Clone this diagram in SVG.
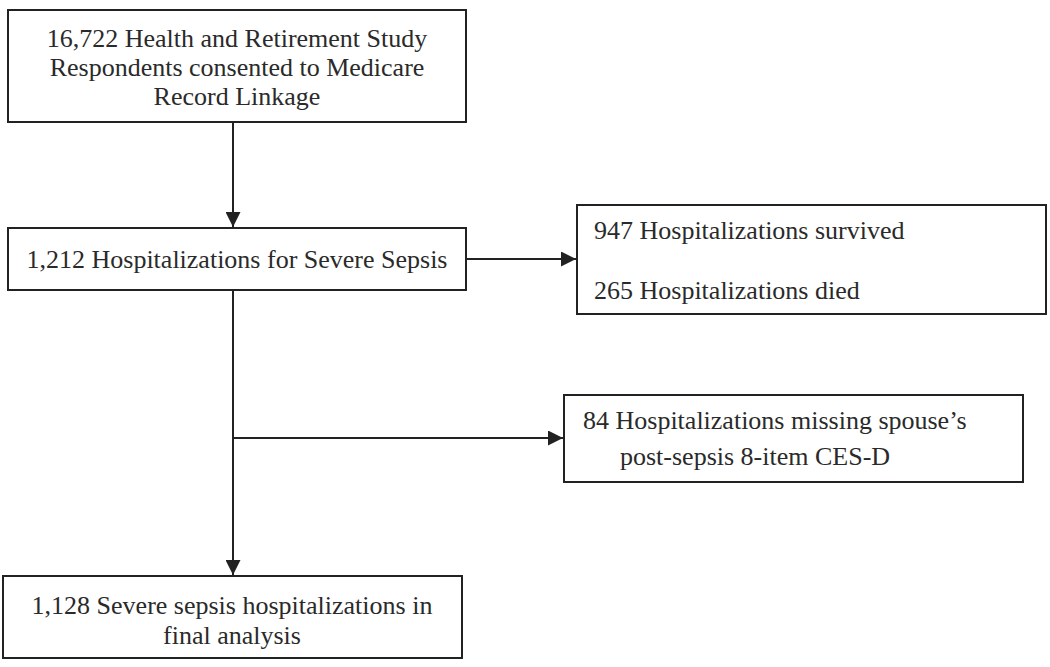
<svg xmlns="http://www.w3.org/2000/svg" width="1050" height="667" viewBox="0 0 1050 667">
<style>
.box{fill:#fff;stroke:#222;stroke-width:2}
.t{font-family:"Liberation Serif","Times New Roman",serif;font-size:26px;fill:#2a2a2a}
.c{text-anchor:middle}
.ln{stroke:#222;stroke-width:2;fill:none}
</style>
<defs>
<marker id="ahb" viewBox="0 0 10 10" refX="10" refY="5" markerWidth="15" markerHeight="15" markerUnits="userSpaceOnUse" orient="auto">
<path d="M0,0 L10,5 L0,10 z" fill="#222"/>
</marker>
</defs>
<rect width="1050" height="667" fill="#fff"/>
<g id="connectors">
<line class="ln" x1="233" y1="122" x2="233" y2="227" marker-end="url(#ahb)"/>
<line class="ln" x1="466" y1="259" x2="576" y2="259" marker-end="url(#ahb)"/>
<line class="ln" x1="233" y1="290" x2="233" y2="575" marker-end="url(#ahb)"/>
<line class="ln" x1="233" y1="438" x2="563" y2="438" marker-end="url(#ahb)"/>
</g>
<g id="n1">
<rect class="box" x="8" y="10" width="458" height="112"/>
<text class="t c" x="237" y="47">16,722 Health and Retirement Study</text>
<text class="t c" x="237" y="76">Respondents consented to Medicare</text>
<text class="t c" x="237" y="105">Record Linkage</text>
</g>
<g id="n2">
<rect class="box" x="8" y="228" width="458" height="62"/>
<text class="t c" x="237" y="268">1,212 Hospitalizations for Severe Sepsis</text>
</g>
<g id="n3">
<rect class="box" x="577" y="205" width="469" height="109"/>
<text class="t" x="594" y="239">947 Hospitalizations survived</text>
<text class="t" x="594" y="299">265 Hospitalizations died</text>
</g>
<g id="n4">
<rect class="box" x="564" y="395" width="459" height="87"/>
<text class="t" x="583" y="429">84 Hospitalizations missing spouse’s</text>
<text class="t" x="620" y="465">post-sepsis 8-item CES-D</text>
</g>
<g id="n5">
<rect class="box" x="3" y="576" width="459" height="82"/>
<text class="t c" x="232" y="614">1,128 Severe sepsis hospitalizations in</text>
<text class="t c" x="232" y="644">final analysis</text>
</g>
</svg>
